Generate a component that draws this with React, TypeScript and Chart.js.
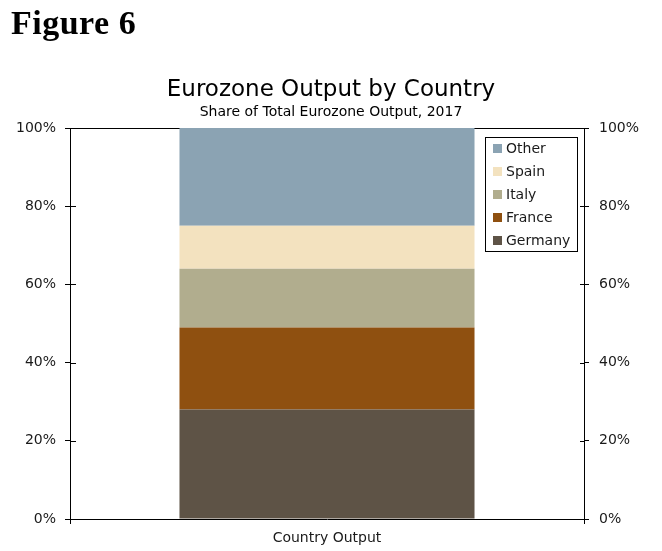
import React, { useEffect, useRef } from "react";
import { Chart, registerables } from "chart.js";

Chart.register(...registerables);

const categories = ["Country Output"];
const seriesNames = ["Germany", "France", "Italy", "Spain", "Other"];
const germany = [28];
const france = [21];
const italy = [15];
const spain = [11];
const other = [25];
const seriesValues = [germany, france, italy, spain, other];
const seriesColors = ["#5E5346", "#8F5010", "#B1AD8E", "#F3E2BF", "#8BA3B3"];
const yMin = 0;
const yMax = 100;
const yStep = 20;
const titleText = "Eurozone Output by Country";
const subtitleText = "Share of Total Eurozone Output, 2017";
const headingText = "Figure 6";

const FONT = "'DejaVu Sans', Verdana, sans-serif";

const framePlugin = {
  id: "framePlugin",
  beforeDatasetsDraw(chart: any) {
    const { ctx, chartArea } = chart;
    ctx.save();
    ctx.strokeStyle = "#000";
    ctx.lineWidth = 1;
    const top = Math.round(chartArea.top) + 0.5;
    ctx.beginPath();
    ctx.moveTo(chartArea.left, top);
    ctx.lineTo(chartArea.right, top);
    ctx.stroke();
    const yl = chart.scales.y;
    const yr = chart.scales.y2;
    yl.ticks.forEach((t: any) => {
      const py = Math.round(yl.getPixelForValue(t.value)) + 0.5;
      ctx.beginPath();
      ctx.moveTo(chartArea.left, py);
      ctx.lineTo(chartArea.left + 6, py);
      ctx.stroke();
    });
    yr.ticks.forEach((t: any) => {
      const py = Math.round(yr.getPixelForValue(t.value)) + 0.5;
      ctx.beginPath();
      ctx.moveTo(chartArea.right - 4, py);
      ctx.lineTo(chartArea.right, py);
      ctx.stroke();
    });
    ctx.restore();
  },
};

const legendPlugin = {
  id: "boxLegend",
  afterDraw(chart: any) {
    const { ctx, chartArea } = chart;
    const boxW = 92;
    const boxRight = Math.round(chartArea.right) - 7;
    const boxLeft = boxRight - boxW;
    const boxTop = Math.round(chartArea.top) + 9;
    const rowH = 23;
    const datasets = chart.data.datasets.slice().reverse();
    const boxH = 11 * 2 + rowH * (datasets.length - 1);
    ctx.save();
    ctx.fillStyle = "#fff";
    ctx.fillRect(boxLeft, boxTop, boxW, boxH);
    ctx.strokeStyle = "#000";
    ctx.lineWidth = 1;
    ctx.strokeRect(boxLeft + 0.5, boxTop + 0.5, boxW, boxH);
    ctx.font = `14px ${FONT}`;
    ctx.textBaseline = "middle";
    ctx.textAlign = "left";
    datasets.forEach((ds: any, i: number) => {
      const cy = boxTop + 11 + i * rowH;
      ctx.fillStyle = ds.backgroundColor;
      ctx.fillRect(boxLeft + 8, cy - 4, 9, 9);
      ctx.fillStyle = "#1a1a1a";
      ctx.fillText(ds.label, boxLeft + 21, cy + 1);
    });
    ctx.restore();
  },
};

export default function App() {
  const canvasRef = useRef<HTMLCanvasElement | null>(null);

  useEffect(() => {
    if (!canvasRef.current) return;
    const yScaleCommon = (position: "left" | "right", width: number) => ({
      type: "linear" as const,
      position,
      stacked: true,
      min: yMin,
      max: yMax,
      afterFit(scale: any) {
        scale.width = width;
      },
      border: { display: true, color: "#000", width: 1 },
      grid: {
        drawOnChartArea: false,
        drawTicks: true,
        tickLength: 5,
        color: "#000",
        tickColor: "#000",
      },
      ticks: {
        stepSize: yStep,
        padding: position === "left" ? 9 : 10,
        color: "#1a1a1a",
        font: { family: FONT, size: 14 },
        callback: (v: any) => `${v}%`,
      },
    });

    const chart = new Chart(canvasRef.current, {
      type: "bar",
      data: {
        labels: categories,
        datasets: seriesNames.map((name, i) => ({
          label: name,
          data: seriesValues[i],
          backgroundColor: seriesColors[i],
          borderWidth: 0,
          barPercentage: 0.574,
          categoryPercentage: 1,
          yAxisID: "y",
        })),
      },
      options: {
        responsive: false,
        animation: false,
        layout: { padding: { top: 76, left: 0, right: 0, bottom: 0 } },
        plugins: {
          legend: { display: false },
          tooltip: { enabled: false },
          title: {
            display: true,
            text: titleText,
            color: "#000",
            font: { family: FONT, size: 23, weight: "normal" },
            padding: { top: 0, bottom: 0 },
          },
          subtitle: {
            display: true,
            text: subtitleText,
            color: "#000",
            font: { family: FONT, size: 14, weight: "normal" },
            padding: { top: 0, bottom: 7.6 },
          },
        },
        scales: {
          x: {
            stacked: true,
            afterFit(scale: any) {
              scale.height = 32;
            },
            border: { display: true, color: "#000", width: 1 },
            grid: {
              offset: true,
              drawOnChartArea: false,
              drawTicks: true,
              tickLength: 5,
              color: "#000",
              tickColor: "#000",
            },
            ticks: {
              padding: 6,
              color: "#1a1a1a",
              font: { family: FONT, size: 14 },
            },
          },
          y: yScaleCommon("left", 70),
          y2: yScaleCommon("right", 78),
        },
      },
      plugins: [framePlugin, legendPlugin],
    } as any);
    return () => chart.destroy();
  }, []);

  return (
    <div style={{ position: "absolute", left: 0, top: 0, width: 662, height: 551, background: "#fff" }}>
      <canvas
        ref={canvasRef}
        width={662}
        height={551}
        style={{ position: "absolute", left: 0, top: 0, width: 662, height: 551, display: "block" }}
      />
      <div
        style={{
          position: "absolute",
          left: 11,
          top: 6,
          fontFamily: "'Liberation Serif', 'Times New Roman', serif",
          fontWeight: "bold",
          fontSize: 34,
          letterSpacing: "0.5px",
          lineHeight: "34px",
          color: "#000",
          whiteSpace: "nowrap",
        }}
      >
        {headingText}
      </div>
    </div>
  );
}
